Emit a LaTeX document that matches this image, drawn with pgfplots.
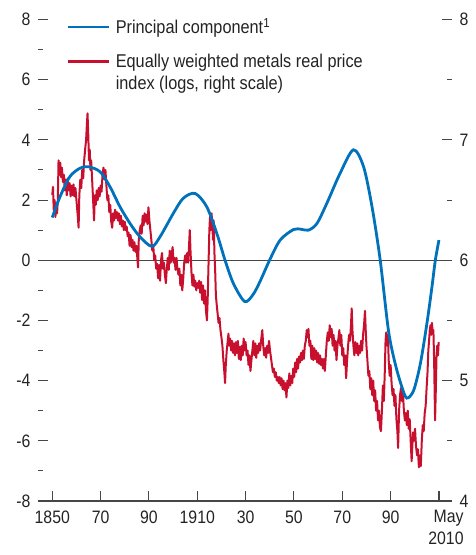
\documentclass[border=0pt]{standalone}
\usepackage{fontspec}
\setmainfont{Liberation Sans}[FakeStretch=0.88]
\usepackage{pgfplots}
\pgfplotsset{compat=1.18}
\definecolor{imfblue}{RGB}{0,114,188}
\definecolor{imfred}{RGB}{200,16,46}
\definecolor{axgray}{RGB}{70,70,70}
\definecolor{txtgray}{RGB}{35,35,35}
\begin{document}
\begin{tikzpicture}
\path[use as bounding box] (-38pt,-54pt) rectangle (437pt,501pt);
\pgfplotsset{
  base/.style={
    width=414pt, height=481.5pt, scale only axis,
    xmin=1844.1, xmax=2015.4,
    tick align=inside,
    major tick length=10pt, minor tick length=5.5pt,
    every tick/.style={axgray, line width=1.1pt},
    minor tick style={line width=1pt},
    tick label style={font=\fontsize{18}{22}\selectfont, text=txtgray},
  }
}
% ---------- red series, right scale ----------
\begin{axis}[base,
  ymin=4, ymax=8,
  axis y line*=right, axis x line=none,
  y axis line style={draw=none},
  ytick={4,5,6,7,8}, yticklabels={4,5,6,7,8},
  minor ytick={4.5,5.5,6.5,7.5},
  yticklabel style={xshift=4pt},
]
\addplot[axgray, line width=0.8pt] coordinates {(1844.1,6) (2015.4,6)};
\addplot[imfred, line width=2.0pt, line join=round] coordinates {
(1850.0,6.54)(1850.3,6.61)(1850.6,6.42)(1851.0,6.50)(1851.3,6.36)(1851.7,6.46)(1852.0,6.39)(1852.3,6.50)
(1852.6,6.83)(1853.0,6.71)(1853.3,6.81)(1853.7,6.69)(1854.0,6.77)(1854.4,6.65)(1854.8,6.71)(1855.2,6.58)
(1855.6,6.67)(1856.0,6.54)(1856.4,6.68)(1856.8,6.58)(1857.2,6.64)(1857.6,6.53)(1858.0,6.62)(1858.4,6.54)
(1858.8,6.63)(1859.2,6.53)(1859.6,6.60)(1860.0,6.50)(1860.5,6.38)(1860.9,6.27)(1861.2,6.54)(1861.6,6.67)
(1862.0,6.60)(1862.4,6.75)(1862.8,6.68)(1863.2,6.83)(1863.6,6.92)(1864.0,7.00)(1864.3,7.12)(1864.6,7.22)
(1864.9,7.04)(1865.2,6.83)(1865.5,6.92)(1865.8,6.75)(1866.1,6.83)(1866.5,6.67)(1866.9,6.50)(1867.3,6.33)
(1867.6,6.54)(1868.0,6.46)(1868.4,6.58)(1868.8,6.50)(1869.2,6.60)(1869.6,6.53)(1870.0,6.62)(1870.4,6.57)
(1870.8,6.71)(1871.2,6.77)(1871.6,6.67)(1872.0,6.75)(1872.4,6.62)(1872.8,6.50)(1873.2,6.54)(1873.6,6.40)
(1874.0,6.46)(1874.4,6.32)(1874.8,6.27)(1875.2,6.39)(1875.6,6.33)(1876.0,6.42)(1876.4,6.35)(1876.8,6.40)
(1877.2,6.33)(1877.6,6.39)(1878.0,6.30)(1878.4,6.37)(1878.8,6.28)(1879.2,6.33)(1879.6,6.25)(1880.0,6.32)
(1880.4,6.25)(1880.8,6.28)(1881.2,6.20)(1881.6,6.23)(1882.0,6.12)(1882.4,6.21)(1882.8,6.11)(1883.2,6.17)
(1883.6,6.08)(1884.0,6.15)(1884.4,6.07)(1884.8,6.12)(1885.2,6.02)(1885.5,5.94)(1885.8,6.17)(1886.2,6.25)
(1886.6,6.29)(1887.0,6.22)(1887.4,6.37)(1887.8,6.29)(1888.2,6.39)(1888.6,6.32)(1889.0,6.38)(1889.4,6.30)
(1889.8,6.44)(1890.2,6.33)(1890.6,6.25)(1891.0,6.17)(1891.4,6.08)(1891.8,6.12)(1892.2,6.00)(1892.6,6.04)
(1893.0,5.93)(1893.4,5.97)(1893.8,5.85)(1894.2,5.96)(1894.6,5.83)(1895.0,6.00)(1895.4,6.06)(1895.8,5.93)
(1896.2,5.98)(1896.6,5.88)(1897.0,5.81)(1897.4,5.93)(1897.8,6.02)(1898.2,5.92)(1898.6,6.08)(1899.0,5.98)
(1899.4,6.04)(1899.8,6.11)(1900.2,5.98)(1900.6,6.02)(1901.0,5.92)(1901.4,6.02)(1901.8,5.93)(1902.2,5.88)
(1902.6,5.93)(1903.0,5.79)(1903.4,5.88)(1903.8,5.75)(1904.2,5.85)(1904.6,5.98)(1905.0,6.04)(1905.4,5.98)
(1905.8,6.06)(1906.2,5.98)(1906.6,6.12)(1906.9,6.25)(1907.2,6.08)(1907.6,5.90)(1908.0,5.79)(1908.4,5.88)
(1908.8,5.78)(1909.2,5.83)(1909.6,5.75)(1910.0,5.81)(1910.4,5.77)(1910.8,5.83)(1911.2,5.73)(1911.6,5.82)
(1912.0,5.67)(1912.4,5.79)(1912.8,5.64)(1913.2,5.75)(1913.6,5.58)(1914.0,5.50)(1914.3,5.67)(1914.6,5.92)
(1915.0,6.25)(1915.3,6.37)(1915.6,6.25)(1915.9,6.39)(1916.2,6.32)(1916.5,6.17)(1916.8,6.33)(1917.1,6.06)
(1917.4,5.92)(1917.7,5.71)(1918.0,5.64)(1918.4,5.56)(1918.8,5.48)(1919.2,5.52)(1919.6,5.42)(1920.0,5.36)
(1920.4,5.29)(1920.8,5.17)(1921.2,5.07)(1921.5,4.98)(1921.8,5.13)(1922.2,5.25)(1922.6,5.33)(1922.9,5.39)
(1923.2,5.29)(1923.6,5.35)(1924.0,5.25)(1924.4,5.33)(1924.8,5.23)(1925.2,5.31)(1925.6,5.21)(1926.0,5.32)
(1926.4,5.23)(1926.8,5.33)(1927.2,5.18)(1927.6,5.28)(1928.0,5.17)(1928.4,5.29)(1928.8,5.21)(1929.2,5.35)
(1929.6,5.25)(1930.0,5.32)(1930.4,5.21)(1930.8,5.25)(1931.2,5.13)(1931.6,5.21)(1932.0,5.08)(1932.4,5.17)
(1932.8,5.25)(1933.2,5.33)(1933.6,5.21)(1934.0,5.31)(1934.4,5.19)(1934.8,5.29)(1935.2,5.23)(1935.6,5.31)
(1936.0,5.25)(1936.5,5.35)(1936.9,5.42)(1937.3,5.29)(1937.7,5.21)(1938.1,5.27)(1938.5,5.19)(1938.9,5.29)
(1939.3,5.23)(1939.7,5.33)(1940.1,5.25)(1940.5,5.19)(1940.9,5.13)(1941.3,5.07)(1941.7,5.10)(1942.1,5.03)
(1942.5,5.07)(1942.9,5.00)(1943.3,5.03)(1943.7,4.98)(1944.1,5.03)(1944.5,4.96)(1944.9,5.02)(1945.3,4.93)
(1945.7,5.00)(1946.1,4.92)(1946.5,4.98)(1946.9,4.86)(1947.3,5.00)(1947.7,4.94)(1948.1,5.06)(1948.5,4.96)
(1948.9,5.04)(1949.3,4.98)(1949.7,5.10)(1950.1,5.03)(1950.5,5.15)(1950.9,5.07)(1951.3,5.18)(1951.7,5.10)
(1952.1,5.20)(1952.5,5.15)(1952.9,5.23)(1953.3,5.17)(1953.7,5.25)(1954.1,5.18)(1954.5,5.29)(1954.9,5.33)
(1955.3,5.42)(1955.7,5.36)(1956.0,5.43)(1956.4,5.29)(1956.8,5.33)(1957.2,5.18)(1957.6,5.29)(1958.0,5.17)
(1958.4,5.27)(1958.8,5.18)(1959.2,5.25)(1959.6,5.15)(1960.0,5.23)(1960.4,5.14)(1960.8,5.21)(1961.2,5.13)
(1961.6,5.18)(1962.0,5.10)(1962.4,5.18)(1962.8,5.08)(1963.2,5.21)(1963.6,5.33)(1964.0,5.40)(1964.4,5.33)
(1964.8,5.46)(1965.2,5.36)(1965.6,5.43)(1966.0,5.29)(1966.4,5.38)(1966.8,5.25)(1967.2,5.33)(1967.6,5.17)
(1968.0,5.29)(1968.4,5.35)(1968.8,5.42)(1969.2,5.29)(1969.6,5.38)(1970.0,5.21)(1970.4,5.27)(1970.8,5.13)
(1971.2,5.21)(1971.6,5.02)(1972.0,5.17)(1972.4,5.29)(1972.8,5.38)(1973.2,5.33)(1973.6,5.46)(1973.9,5.60)
(1974.2,5.42)(1974.6,5.29)(1975.0,5.21)(1975.4,5.32)(1975.8,5.23)(1976.2,5.31)(1976.6,5.21)(1977.0,5.29)
(1977.4,5.23)(1977.8,5.33)(1978.2,5.25)(1978.6,5.38)(1979.0,5.46)(1979.4,5.58)(1979.7,5.42)(1980.0,5.29)
(1980.4,5.17)(1980.8,5.04)(1981.2,5.08)(1981.6,4.93)(1982.0,5.02)(1982.4,4.88)(1982.8,5.00)(1983.2,4.83)
(1983.6,4.92)(1984.0,4.75)(1984.4,4.83)(1984.8,4.67)(1985.2,4.75)(1985.6,4.61)(1986.0,4.58)(1986.4,4.75)
(1986.8,4.96)(1987.2,4.83)(1987.6,5.08)(1987.9,5.33)(1988.2,5.40)(1988.6,5.29)(1988.9,5.38)(1989.2,5.17)
(1989.6,5.04)(1990.0,5.13)(1990.4,4.98)(1990.8,4.88)(1991.2,4.93)(1991.6,4.79)(1992.0,4.88)(1992.4,4.68)
(1992.8,4.58)(1993.1,4.44)(1993.5,4.75)(1993.9,4.88)(1994.3,4.94)(1994.7,4.83)(1995.1,4.90)(1995.5,4.75)
(1995.9,4.67)(1996.3,4.73)(1996.7,4.63)(1997.1,4.75)(1997.5,4.60)(1997.9,4.68)(1998.3,4.50)(1998.7,4.33)
(1999.0,4.46)(1999.3,4.57)(1999.7,4.50)(2000.1,4.60)(2000.5,4.46)(2000.9,4.38)(2001.3,4.43)(2001.7,4.28)
(2002.1,4.38)(2002.5,4.29)(2002.9,4.50)(2003.3,4.63)(2003.7,4.58)(2004.1,4.73)(2004.5,4.79)(2004.9,4.94)
(2005.3,5.08)(2005.6,5.25)(2005.9,5.33)(2006.2,5.42)(2006.5,5.46)(2006.8,5.38)(2007.1,5.48)(2007.4,5.40)
(2007.7,5.42)(2008.0,5.17)(2008.4,4.67)(2008.7,4.92)(2009.0,5.21)(2009.3,5.29)(2009.6,5.21)(2009.9,5.32)
};
\end{axis}
% ---------- blue series, left scale ----------
\begin{axis}[base,
  ymin=-8, ymax=8,
  axis y line*=left, axis x line*=bottom,
  y axis line style={draw=none},
  x axis line style={axgray, line width=1.1pt, -},
  ytick={-8,-6,...,8}, yticklabels={-8,-6,-4,-2,0,2,4,6,8},
  minor ytick={-7,-5,...,7},
  yticklabel style={xshift=-4pt},
  xtick={1850,1870,...,1990},
  xticklabels={1850,70,90,1910,30,50,70,90},
  extra x ticks={2010}, extra x tick labels={May\\2010},
  extra x tick style={tick label style={align=right, xshift=7pt}},
  xticklabel style={yshift=-6pt},
  legend style={at={(rel axis cs:0,1)}, anchor=north west, xshift=29pt, yshift=2pt,
    draw=none, fill=none, inner sep=0pt, row sep=16.5pt, column sep=4pt,
    font=\fontsize{18.5}{22}\selectfont, text=txtgray,
    nodes={align=left, inner sep=1pt}},
  legend cell align=left,
  legend image code/.code={\draw[#1, line width=2.6pt] (0pt,0pt) -- (41pt,0pt);},
]
\addplot[imfblue, line width=2.8pt, smooth] coordinates {
(1850,1.42)(1853.2,2.11)(1857.3,2.78)(1861.5,3.06)(1864.9,3.11)(1869.8,2.94)(1873.9,2.44)(1878,1.78)
(1882.2,1.22)(1886.3,0.78)(1891.2,0.46)(1894.6,0.78)(1900.1,1.56)(1904.2,2.06)(1909.1,2.22)(1913.9,1.78)
(1918.1,0.89)(1921.5,0)(1925,-0.78)(1929.6,-1.37)(1933,-1.15)(1936,-0.70)(1939.9,0)(1944.3,0.67)
(1949.8,1.02)(1953,1.03)(1956,1.00)(1959.5,1.22)(1963.6,1.89)(1969.1,2.89)(1974.6,3.67)(1978.8,3.11)
(1982.3,1.78)(1985.7,0)(1989.1,-2.33)(1991.9,-3.44)(1994.7,-4.22)(1996.7,-4.58)(1999.5,-4.33)(2002.3,-3.44)
(2005,-2.11)(2007.1,-0.89)(2008.5,0)(2010,0.67)
};
\addlegendentry{Principal component\textsuperscript{1}}
\addlegendimage{imfred, line width=2.2pt, yshift=11pt}
\addlegendentry{Equally weighted metals real price\\index (logs, right scale)}
\end{axis}
\end{tikzpicture}
\end{document}
